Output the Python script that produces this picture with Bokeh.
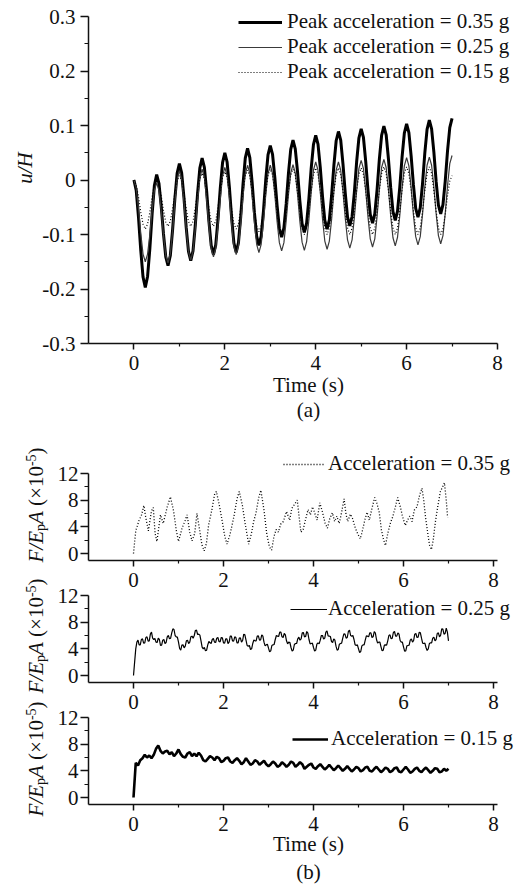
import math
from bokeh.plotting import figure
from bokeh.models import Range1d, FixedTicker, Label, Legend, LegendItem
from bokeh.layouts import column
from bokeh.embed import file_html
from bokeh.resources import INLINE

FONT = "Liberation Serif"
INK = "#111111"
W, H = 520, 886
NAN = float("nan")

# ---------------- data: panel (a), u/H sampled every 0.05 s ----------------
STEP_A = 0.05
u_035 = [0, -0.019, -0.068, -0.129, -0.178, -0.197,
         -0.177, -0.126, -0.062, -0.010, 0.010,
         -0.006, -0.048, -0.099, -0.141, -0.157,
         -0.139, -0.092, -0.035, 0.012, 0.030,
         0.013, -0.032, -0.087, -0.131, -0.148,
         -0.130, -0.083, -0.025, 0.022, 0.040,
         0.023, -0.021, -0.076, -0.120, -0.137,
         -0.119, -0.072, -0.015, 0.032, 0.050,
         0.033, -0.013, -0.070, -0.116, -0.133,
         -0.115, -0.067, -0.008, 0.040, 0.058,
         0.041, -0.004, -0.059, -0.103, -0.120,
         -0.103, -0.057, 0.000, 0.046, 0.063,
         0.047, 0.005, -0.047, -0.089, -0.105,
         -0.088, -0.044, 0.012, 0.056, 0.073,
         0.057, 0.015, -0.038, -0.080, -0.096,
         -0.079, -0.034, 0.021, 0.065, 0.082,
         0.066, 0.023, -0.031, -0.074, -0.090,
         -0.073, -0.028, 0.027, 0.072, 0.089,
         0.073, 0.029, -0.024, -0.068, -0.084,
         -0.067, -0.023, 0.033, 0.077, 0.094,
         0.078, 0.034, -0.019, -0.063, -0.079,
         -0.062, -0.018, 0.038, 0.082, 0.099,
         0.083, 0.039, -0.014, -0.058, -0.074,
         -0.057, -0.013, 0.042, 0.086, 0.103,
         0.087, 0.044, -0.009, -0.052, -0.068,
         -0.051, -0.007, 0.049, 0.093, 0.110,
         0.094, 0.051, -0.003, -0.046, -0.062,
         -0.045, -0.002, 0.053, 0.096, 0.113]
u_025 = [0, -0.014, -0.052, -0.098, -0.136, -0.150,
         -0.136, -0.100, -0.055, -0.019, -0.005,
         -0.019, -0.056, -0.101, -0.138, -0.152,
         -0.136, -0.094, -0.041, 0.001, 0.017,
         0.001, -0.040, -0.090, -0.131, -0.147,
         -0.131, -0.089, -0.038, 0.004, 0.020,
         0.005, -0.036, -0.085, -0.126, -0.141,
         -0.125, -0.084, -0.034, 0.007, 0.023,
         0.008, -0.032, -0.082, -0.122, -0.137,
         -0.121, -0.080, -0.030, 0.011, 0.027,
         0.012, -0.028, -0.078, -0.118, -0.133,
         -0.118, -0.078, -0.028, 0.012, 0.027,
         0.012, -0.027, -0.076, -0.115, -0.130,
         -0.115, -0.075, -0.027, 0.013, 0.028,
         0.013, -0.026, -0.075, -0.114, -0.129,
         -0.113, -0.073, -0.023, 0.018, 0.033,
         0.018, -0.022, -0.072, -0.112, -0.127,
         -0.112, -0.072, -0.022, 0.018, 0.033,
         0.018, -0.022, -0.070, -0.110, -0.125,
         -0.110, -0.069, -0.020, 0.021, 0.036,
         0.021, -0.019, -0.068, -0.108, -0.123,
         -0.108, -0.067, -0.018, 0.023, 0.038,
         0.023, -0.017, -0.066, -0.106, -0.121,
         -0.105, -0.065, -0.015, 0.026, 0.041,
         0.026, -0.014, -0.064, -0.104, -0.119,
         -0.104, -0.063, -0.014, 0.027, 0.042,
         0.027, -0.013, -0.062, -0.102, -0.117,
         -0.102, -0.061, -0.011, 0.030, 0.045]
u_015 = [0, -0.009, -0.031, -0.059, -0.081, -0.090,
         -0.081, -0.059, -0.031, -0.009, 0.000,
         -0.008, -0.029, -0.056, -0.077, -0.085,
         -0.076, -0.053, -0.024, -0.001, 0.008,
         -0.001, -0.024, -0.053, -0.076, -0.085,
         -0.076, -0.051, -0.021, 0.003, 0.012,
         0.003, -0.022, -0.052, -0.076, -0.085,
         -0.075, -0.050, -0.020, 0.005, 0.015,
         0.005, -0.021, -0.054, -0.080, -0.090,
         -0.080, -0.053, -0.019, 0.008, 0.018,
         0.007, -0.021, -0.056, -0.084, -0.095,
         -0.084, -0.055, -0.020, 0.009, 0.020,
         0.009, -0.022, -0.059, -0.089, -0.100,
         -0.089, -0.059, -0.021, 0.009, 0.020,
         0.009, -0.022, -0.059, -0.089, -0.100,
         -0.088, -0.058, -0.020, 0.010, 0.022,
         0.010, -0.020, -0.058, -0.088, -0.100,
         -0.088, -0.058, -0.020, 0.010, 0.022,
         0.010, -0.020, -0.058, -0.088, -0.100,
         -0.088, -0.058, -0.020, 0.010, 0.022,
         0.010, -0.020, -0.058, -0.088, -0.100,
         -0.088, -0.057, -0.019, 0.012, 0.024,
         0.012, -0.019, -0.057, -0.088, -0.100,
         -0.088, -0.057, -0.019, 0.012, 0.024,
         0.012, -0.019, -0.057, -0.088, -0.100,
         -0.088, -0.057, -0.019, 0.012, 0.024,
         0.012, -0.019, -0.057, -0.088, -0.100,
         -0.090, -0.063, -0.029, -0.002, 0.008]

# ---------------- data: panel (b), F/EpA (x1e-5) ----------------
f035_t = [0, 0.05, 0.12, 0.18, 0.23, 0.27, 0.33, 0.40, 0.44, 0.48,
          0.52, 0.60, 0.66, 0.75, 0.82, 0.89, 0.95, 1.00, 1.08, 1.15,
          1.19, 1.25, 1.30, 1.36, 1.41, 1.47, 1.52, 1.57, 1.62, 1.67,
          1.74, 1.80, 1.84, 1.90, 1.97, 2.03, 2.08, 2.15, 2.23, 2.30,
          2.35, 2.42, 2.48, 2.56, 2.62, 2.67, 2.72, 2.78, 2.83, 2.90,
          2.96, 3.02, 3.07, 3.12, 3.17, 3.22, 3.27, 3.33, 3.40, 3.47,
          3.52, 3.58, 3.64, 3.68, 3.72, 3.77, 3.82, 3.88, 3.93, 3.98,
          4.03, 4.08, 4.14, 4.20, 4.26, 4.31, 4.36, 4.42, 4.47, 4.52,
          4.57, 4.62, 4.68, 4.72, 4.76, 4.82, 4.87, 4.93, 4.98, 5.04,
          5.09, 5.14, 5.19, 5.24, 5.30, 5.36, 5.41, 5.46, 5.51, 5.56,
          5.60, 5.65, 5.71, 5.76, 5.82, 5.87, 5.93, 5.98, 6.04, 6.09,
          6.14, 6.19, 6.24, 6.30, 6.36, 6.41, 6.45, 6.49, 6.54, 6.58,
          6.62, 6.66, 6.71, 6.76, 6.82, 6.87, 6.91, 6.95, 6.98]
f035_v = [0, 3.4, 4.9, 5.8, 7.2, 5.5, 3.4, 6.4, 6.9, 3.0,
          1.8, 5.8, 4.5, 7.0, 8.5, 6.4, 3.5, 1.8, 3.8, 5.0,
          5.8, 3.2, 1.9, 3.0, 6.0, 3.5, 1.3, 0.4, 1.5, 4.3,
          6.5, 8.8, 9.3, 7.5, 4.9, 2.5, 1.4, 3.0, 5.5, 8.2,
          9.3, 7.2, 4.5, 1.4, 3.0, 4.8, 6.0, 8.3, 9.5, 6.5,
          3.0, 1.0, 0.5, 2.5, 3.6, 3.2, 4.4, 4.8, 6.3, 5.0,
          6.8, 7.4, 8.0, 5.5, 3.2, 3.6, 5.0, 6.6, 5.8, 7.0,
          6.0, 5.0, 7.6, 6.2, 4.5, 3.8, 5.2, 6.1, 4.8, 5.6,
          4.5, 6.0, 8.2, 6.0, 4.8, 5.9, 5.2, 3.8, 3.0, 2.2,
          3.5, 5.0, 6.2, 5.0, 6.8, 8.4, 7.5, 6.2, 3.5, 2.0,
          1.2, 3.0, 4.6, 5.5, 7.0, 8.4, 7.0, 5.5, 4.2, 5.0,
          5.6, 4.8, 6.5, 7.0, 8.8, 9.8, 8.0, 5.4, 3.0, 1.2,
          0.6, 2.0, 4.8, 7.0, 9.3, 10.0, 10.6, 8.0, 5.4]

STEP_B25 = 0.025
f025_v = [0, 2.0, 4.0, 5.0, 5.3, 4.6, 4.6, 5.4, 5.5, 4.85, 4.9, 5.7, 5.8, 5.15, 5.2, 6.2, 6.5, 5.6, 5.4, 5.55,
          5.0, 4.95, 5.6, 5.4, 4.5, 4.55, 5.3, 5.4, 4.8, 4.95, 5.8, 6.0, 5.5, 5.6, 6.4, 7.0, 6.9, 6.0, 5.8, 5.75,
          5.0, 4.05, 3.8, 4.55, 4.6, 4.15, 4.4, 5.2, 5.3, 4.8, 5.0, 5.8, 5.9, 5.6, 6.0, 6.75, 6.8, 6.15, 6.2, 6.05,
          5.2, 4.25, 4.0, 4.2, 3.7, 3.8, 4.6, 5.1, 4.9, 4.8, 5.4, 5.55, 5.0, 4.95, 5.6, 5.7, 5.1, 5.05, 5.7, 5.65,
          4.9, 4.85, 5.5, 5.5, 4.8, 5.0, 5.9, 5.9, 5.2, 5.15, 5.8, 5.7, 4.9, 4.9, 5.6, 5.65, 5.0, 5.25, 6.2, 6.1,
          5.3, 4.5, 4.4, 4.5, 3.9, 4.0, 4.8, 5.35, 5.2, 5.2, 5.9, 5.95, 5.3, 5.35, 6.1, 5.9, 5.0, 4.45, 4.6, 4.7,
          4.1, 3.55, 3.7, 4.5, 4.6, 4.65, 5.4, 6.0, 5.9, 5.85, 6.5, 6.5, 5.8, 5.7, 6.3, 6.1, 5.2, 4.75, 5.0, 4.95,
          4.2, 3.65, 3.8, 4.65, 4.8, 4.8, 5.5, 5.75, 5.3, 5.5, 6.4, 6.45, 5.8, 5.85, 6.6, 6.35, 5.4, 4.75, 4.8, 4.85,
          4.2, 3.65, 3.8, 4.7, 4.9, 4.75, 5.3, 6.0, 6.0, 5.45, 5.6, 6.5, 6.7, 5.95, 5.9, 5.85, 5.1, 4.95, 5.5, 5.3,
          4.4, 3.8, 3.9, 4.7, 4.8, 4.85, 5.6, 6.25, 6.2, 5.6, 5.7, 6.6, 6.8, 6.0, 5.9, 6.0, 5.4, 4.6, 4.5, 4.6,
          4.0, 3.45, 3.6, 4.45, 4.6, 4.6, 5.3, 5.95, 5.9, 5.8, 6.4, 6.4, 5.7, 5.8, 6.6, 6.35, 5.4, 4.85, 5.0, 5.0,
          4.3, 3.7, 3.8, 4.55, 4.6, 4.55, 5.2, 6.0, 6.1, 5.5, 5.6, 6.45, 6.6, 5.9, 5.9, 6.4, 6.2, 5.25, 5.0, 5.0,
          4.3, 3.65, 3.7, 4.45, 4.5, 4.55, 5.3, 5.5, 5.0, 5.25, 6.2, 6.3, 5.7, 5.75, 6.5, 6.4, 5.6, 4.85, 4.8, 4.85,
          4.2, 3.75, 4.0, 4.8, 4.9, 4.9, 5.6, 5.75, 5.2, 5.4, 6.3, 6.4, 5.8, 6.05, 7.0, 6.95, 6.2, 6.3, 7.1, 6.5,
          5.2]

STEP_B15 = 0.05
f015_v = [0, 5.2, 4.8, 5.6, 5.9, 6.4, 6.0, 6.3, 5.9, 6.4,
          7.3, 7.8, 7.0, 6.6, 6.9, 7.0, 6.5, 6.8, 6.2, 6.6,
          7.2, 6.5, 6.1, 6.0, 6.6, 6.8, 6.2, 6.6, 6.2, 6.7,
          6.3, 5.6, 5.4, 5.8, 6.2, 6.0, 5.6, 6.1, 5.9, 5.3,
          5.5, 5.9, 6.0, 5.4, 5.2, 5.6, 5.9, 5.5, 5.0, 5.3,
          5.9, 5.4, 4.9, 5.1, 5.6, 5.4, 4.9, 5.2, 5.5, 5.0,
          4.7, 5.0, 5.4, 5.1, 4.6, 4.8, 5.3, 5.0, 4.6, 4.9,
          5.4, 5.2, 4.6, 4.9, 5.3, 5.0, 4.3, 4.6, 4.9, 5.1,
          4.5, 4.3, 4.7, 5.0, 4.6, 4.2, 4.5, 4.9, 4.5, 4.1,
          4.4, 4.8, 4.4, 4.0, 4.3, 4.7, 4.3, 3.9, 4.2, 4.6,
          4.4, 3.9, 4.1, 4.5, 4.6, 4.0, 3.9, 4.3, 4.6, 4.2,
          3.8, 4.1, 4.5, 4.3, 3.8, 4.0, 4.4, 4.5, 3.9, 3.8,
          4.2, 4.6, 4.2, 3.7, 3.9, 4.3, 4.5, 4.0, 3.8, 4.2,
          4.5, 4.1, 3.7, 4.0, 4.4, 4.3, 3.8, 3.9, 4.3, 4.0,
          4.3]

# ---------------- ticks and labels ----------------
x_ticks = [0, 2, 4, 6, 8]
x_minor = [1, 3, 5, 7]
x_tick_labels = ["0", "2", "4", "6", "8"]
a_y_ticks = [-0.3, -0.2, -0.1, 0, 0.1, 0.2, 0.3]
a_y_minor = [-0.25, -0.15, -0.05, 0.05, 0.15, 0.25]
a_y_tick_labels = ["-0.3", "-0.2", "-0.1", "0", "0.1", "0.2", "0.3"]
b_y_ticks = [0, 4, 8, 12]
b_y_minor = [2, 6, 10]
b_y_tick_labels = ["0", "4", "8", "12"]
legend_a = ["Peak acceleration = 0.35 g", "Peak acceleration = 0.25 g",
            "Peak acceleration = 0.15 g"]
legend_b = ["Acceleration = 0.35 g", "Acceleration = 0.25 g", "Acceleration = 0.15 g"]

# line styles
ST_THICK = dict(line_width=3, color="black")
ST_THIN = dict(line_width=1.2, color="#3a3a3a")
ST_DOT = dict(line_width=1.2, color="black", line_dash="1 2")
ST_B_DOT = dict(line_width=1.3, color="black", line_dash="1 2")
ST_B_THIN = dict(line_width=1.2, color="black")
ST_B_THICK = dict(line_width=2.6, color="black")


def times(n, step):
    return [round(i * step, 3) for i in range(n)]


def make_fig(h, x_rng, y_rng, top, bottom, margin=None):
    kw = dict(width=W, height=h, x_range=Range1d(*x_rng), y_range=Range1d(*y_rng),
              output_backend="svg", toolbar_location=None,
              min_border_left=88, min_border_right=23,
              min_border_top=top, min_border_bottom=bottom)
    if margin is not None:
        kw["margin"] = margin
    p = figure(**kw)
    p.xgrid.visible = False
    p.ygrid.visible = False
    p.outline_line_color = None
    p.background_fill_alpha = 0
    p.border_fill_alpha = 0
    return p


def style_axes(p, y_ticks, y_minor, y_labels, y_standoff):
    xa, ya = p.xaxis[0], p.yaxis[0]
    xa.ticker = FixedTicker(ticks=x_ticks, minor_ticks=x_minor)
    ya.ticker = FixedTicker(ticks=y_ticks, minor_ticks=y_minor)
    xa.major_label_overrides = dict(zip(x_ticks, x_tick_labels))
    ya.major_label_overrides = dict(zip(y_ticks, y_labels))
    for ax in (xa, ya):
        ax.axis_line_width = 1.5
        ax.axis_line_color = INK
        ax.major_tick_line_width = 1.5
        ax.major_tick_line_color = INK
        ax.minor_tick_line_width = 1.2
        ax.minor_tick_line_color = INK
        ax.major_tick_in = 0
        ax.minor_tick_in = 0
        ax.major_label_text_font = FONT
        ax.major_label_text_font_size = "21px"
        ax.major_label_text_color = INK
    xa.major_tick_out = 6
    xa.minor_tick_out = 3
    xa.major_label_standoff = 6
    ya.major_tick_out = 8
    ya.minor_tick_out = 4
    ya.major_label_standoff = y_standoff


# ---------------- figure (a): frame 88..497 px ----------------
pa = make_fig(428, (-1, 8), (-0.3, 0.3), 16, 85)
style_axes(pa, a_y_ticks, a_y_minor, a_y_tick_labels, 5)
pa.line(times(len(u_035), STEP_A), u_035, **ST_THICK)
pa.line(times(len(u_025), STEP_A), u_025, **ST_THIN)
pa.line(times(len(u_015), STEP_A), u_015, **ST_DOT)

# ---------------- figures (b): same frame, 45 px per second ----------------
B_X = (-1, 8 + 4.0 / 45.0)
B_Y = (-1.05, 12)
pb1 = make_fig(168, B_X, B_Y, 45, 36)
style_axes(pb1, b_y_ticks, b_y_minor, b_y_tick_labels, 2)
n1 = min(len(f035_t), len(f035_v))
pb1.line(f035_t[:n1], f035_v[:n1], **ST_B_DOT)

pb2 = make_fig(153, B_X, B_Y, 30, 36, margin=(-31, 0, 0, 0))
style_axes(pb2, b_y_ticks, b_y_minor, b_y_tick_labels, 2)
pb2.line(times(len(f025_v), STEP_B25), f025_v, **ST_B_THIN)

pb3 = make_fig(199, B_X, B_Y, 30, 82, margin=(-31, 0, 0, 0))
style_axes(pb3, b_y_ticks, b_y_minor, b_y_tick_labels, 2)
pb3.line(times(len(f015_v), STEP_B15), f015_v, **ST_B_THICK)

charts = column(pa, pb1, pb2, pb3, spacing=0)

# ---------------- text / legend overlay (separate root, page pixel coords) ----------------
ov = figure(width=W, height=H, x_range=Range1d(0, W), y_range=Range1d(0, H),
            output_backend="svg", toolbar_location=None,
            x_axis_location=None, y_axis_location=None, min_border=0,
            margin=(-H, 0, 0, 0))
ov.grid.visible = False
ov.outline_line_color = None
ov.background_fill_alpha = 0
ov.border_fill_alpha = 0

SHIFT = 7  # renderer draws the alphabetic baseline ~7 px below the anchor


def txt(x, y, s, size="21px", style="normal", align="left", angle=0.0):
    if angle:
        x -= SHIFT
    else:
        y -= SHIFT
    ov.add_layout(Label(x=x, y=H - y, text=s, text_font=FONT, text_font_size=size,
                        text_font_style=style, text_align=align,
                        text_baseline="alphabetic", angle=angle, text_color=INK))


def legend(labels, styles, left, bottom, glyph_w, standoff, spacing=0):
    items = []
    for lab, st in zip(labels, styles):
        r = ov.line(x=[NAN], y=[NAN], **st)   # legend swatch only, carries no data
        items.append(LegendItem(label=lab, renderers=[r]))
    ov.add_layout(Legend(items=items, location=(left, H - bottom),
                         orientation="vertical", glyph_width=glyph_w,
                         glyph_height=24, label_height=24, label_standoff=standoff,
                         spacing=spacing, padding=0, margin=0,
                         border_line_color=None, background_fill_alpha=0,
                         label_text_font=FONT, label_text_font_size="21px",
                         label_text_color=INK))


legend(legend_a, [ST_THICK, ST_THIN, ST_DOT], 238, 84, 44, 5, spacing=-5)
legend(legend_b[:1], [ST_B_DOT], 283, 476, 42, 3)
legend(legend_b[1:2], [ST_B_THIN], 290, 621, 37, 1)
legend(legend_b[2:], [ST_B_THICK], 292, 751, 36, 3)

txt(31, 183.3, "u/H", style="italic", angle=math.pi / 2)
txt(308, 391, "Time (s)", align="center")
txt(308, 416, "(a)", align="center")


def ylabel_b(y0):
    base = 42
    pieces = [("F/E", "21px", "italic", 0, 0.0),
              ("p", "14px", "normal", 5, 31.5),
              ("A", "21px", "italic", 0, 38.5),
              ("(×10", "21px", "normal", 0, 56.6),
              ("-5", "14px", "normal", -5, 96.4),
              (")", "21px", "normal", 0, 108.1)]
    for s, size, style, dx, off in pieces:
        txt(base + dx, y0 - off, s, size=size, style=style, angle=math.pi / 2)


ylabel_b(562)
ylabel_b(693)
ylabel_b(816)
txt(308, 850, "Time (s)", align="center")
txt(308, 878, "(b)", align="center")

open("out.html", "w").write(file_html([charts, ov], INLINE))
